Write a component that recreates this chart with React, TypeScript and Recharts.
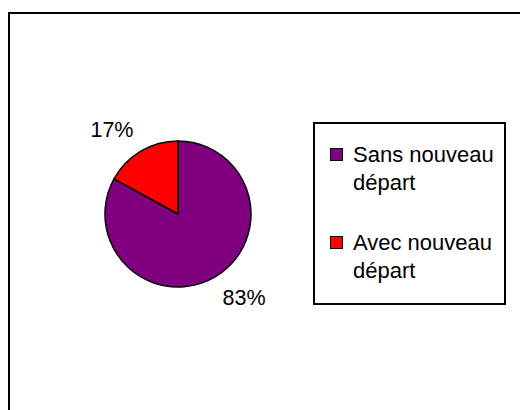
import React from 'react';
import { PieChart, Pie, Cell, Legend } from 'recharts';

const categories = ['Sans nouveau départ', 'Avec nouveau départ'];
const values = [83, 17];
const percentLabels = ['83%', '17%'];
const colors = ['#800080', '#FF0000'];

const data = categories.map((name, i) => ({ name, value: values[i], pct: percentLabels[i] }));

const FONT = '"Liberation Sans", Arial, sans-serif';
const RAD = Math.PI / 180;

const renderLabel = (props: any) => {
  const { cx, cy, midAngle, index } = props;
  const ang = (midAngle + 7.5) * RAD;
  const r = 107;
  const x = cx + r * Math.cos(ang);
  const y = cy - r * Math.sin(ang);
  return (
    <text
      x={x}
      y={y}
      textAnchor="middle"
      dominantBaseline="central"
      fill="#000"
      fontSize={21.5}
      fontFamily={FONT}
    >
      {data[index].pct}
    </text>
  );
};

const LegendBox = () => (
  <div
    style={{
      position: 'relative',
      width: 193,
      height: 183,
      boxSizing: 'border-box',
      border: '2px solid #000',
      background: '#fff',
      fontFamily: FONT,
      fontSize: 22,
      color: '#000',
    }}
  >
    {data.map((d, i) => (
      <div
        key={d.name}
        style={{ position: 'absolute', left: 15, top: (i === 0 ? 17 : 105), width: 170 }}
      >
        <div
          style={{
            position: 'absolute',
            left: 0,
            top: 7,
            width: 13,
            height: 13,
            boxSizing: 'border-box',
            border: '1px solid #000',
            background: colors[i],
          }}
        />
        <div style={{ marginLeft: 23, width: 148, lineHeight: '28px', whiteSpace: 'normal' }}>
          {d.name}
        </div>
      </div>
    ))}
  </div>
);

export default function App() {
  return (
    <div style={{ position: 'relative', width: 520, height: 410, overflow: 'hidden', background: '#fff' }}>
      <style>{`body{margin:0;overflow:hidden;}`}</style>
      <div
        style={{
          position: 'absolute',
          left: 8,
          top: 12,
          width: 700,
          height: 700,
          borderTop: '2px solid #000',
          borderLeft: '2px solid #000',
        }}
      />
      <div style={{ position: 'absolute', left: 0, top: 0 }}>
        <PieChart width={520} height={410} margin={{ top: 0, right: 0, bottom: 0, left: 0 }}>
          <Pie
            data={data}
            dataKey="value"
            nameKey="name"
            cx={178}
            cy={214}
            outerRadius={73}
            startAngle={90}
            endAngle={-270}
            stroke="#000"
            strokeWidth={1.5}
            label={renderLabel}
            labelLine={false}
            isAnimationActive={false}
          >
            {data.map((d, i) => (
              <Cell key={d.name} fill={colors[i]} />
            ))}
          </Pie>
          <Legend
            content={() => <LegendBox />}
            wrapperStyle={{ position: 'absolute', left: 313, top: 122, width: 193, height: 183 }}
          />
        </PieChart>
      </div>
    </div>
  );
}
